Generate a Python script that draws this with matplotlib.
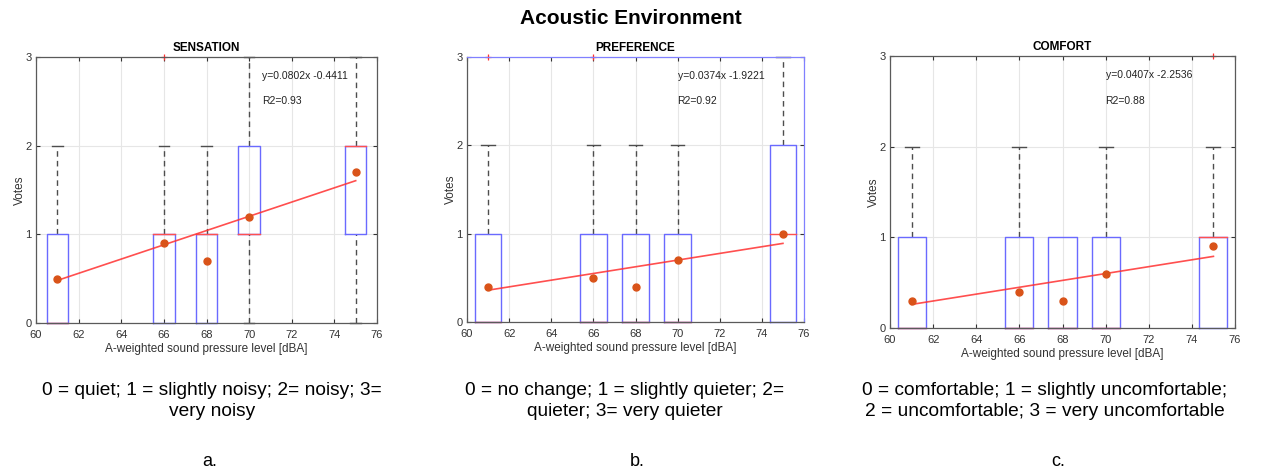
import matplotlib
matplotlib.use('Agg')
import matplotlib.pyplot as plt

plt.rcParams['font.family'] = ['Liberation Sans', 'DejaVu Sans']

spl = [61, 66, 68, 70, 75]

# box statistics per panel: q1, median, q3, lower whisker, upper whisker, outliers, mean
sens_q1 = [0, 0, 0, 1, 1]
sens_med = [0, 1, 1, 1, 2]
sens_q3 = [1, 1, 1, 2, 2]
sens_lo = [0, 0, 0, 0, 0]
sens_hi = [2, 2, 2, 3, 3]
sens_out = [[], [3], [], [], []]
sens_mean = [0.5, 0.9, 0.7, 1.2, 1.7]
sens_fit = [0.48, 1.605]

pref_q1 = [0, 0, 0, 0, 0]
pref_med = [0, 0, 0, 0, 1]
pref_q3 = [1, 1, 1, 1, 2]
pref_lo = [0, 0, 0, 0, 0]
pref_hi = [2, 2, 2, 2, 3]
pref_out = [[3], [3], [], [], []]
pref_mean = [0.4, 0.5, 0.4, 0.7, 1.0]
pref_fit = [0.36, 0.89]

comf_q1 = [0, 0, 0, 0, 0]
comf_med = [0, 0, 0, 0, 1]
comf_q3 = [1, 1, 1, 1, 1]
comf_lo = [0, 0, 0, 0, 0]
comf_hi = [2, 2, 1, 2, 2]
comf_out = [[], [], [], [], [3]]
comf_mean = [0.3, 0.4, 0.3, 0.6, 0.9]
comf_fit = [0.26, 0.79]

titles = ['SENSATION', 'PREFERENCE', 'COMFORT']
equations = ['y=0.0802x -0.4411', 'y=0.0374x -1.9221', 'y=0.0407x -2.2536']
r2_labels = ['R2=0.93', 'R2=0.92', 'R2=0.88']
captions = ['0 = quiet; 1 = slightly noisy; 2= noisy; 3=\nvery noisy',
            '0 = no change; 1 = slightly quieter; 2=\nquieter; 3= very quieter',
            '0 = comfortable; 1 = slightly uncomfortable;\n2 = uncomfortable; 3 = very uncomfortable']
letters = ['a.', 'b.', 'c.']

panels = [
    (sens_q1, sens_med, sens_q3, sens_lo, sens_hi, sens_out, sens_mean, sens_fit),
    (pref_q1, pref_med, pref_q3, pref_lo, pref_hi, pref_out, pref_mean, pref_fit),
    (comf_q1, comf_med, comf_q3, comf_lo, comf_hi, comf_out, comf_mean, comf_fit),
]

W, H = 1269, 474
# pixel boxes: left, right, top, bottom
boxes_px = [(36, 377, 57, 323), (467, 804, 57, 322), (890, 1235, 56, 328)]
box_widths = [1.0, 1.25, 1.3]
eq_x = [70.6, 70.0, 70.0]
caption_x = [212, 625, 1045]
letter_x = [210, 637, 1058]

grey = '#4d4d4d'
blue = '#6a6aff'
red = '#ff5050'

fig = plt.figure(figsize=(W / 100, H / 100), dpi=100)
fig.text(631 / W, 1 - 18 / H, 'Acoustic Environment', ha='center', va='center',
         fontsize=15, fontweight='bold')

for i, (q1, med, q3, lo, hi, out, mean, fit) in enumerate(panels):
    l, r, t, b = boxes_px[i]
    ax = fig.add_axes([l / W, 1 - b / H, (r - l) / W, (b - t) / H])
    wd = box_widths[i]
    for k, x in enumerate(spl):
        x0, x1 = x - wd / 2, x + wd / 2
        c0, c1 = x - wd / 4, x + wd / 4
        # whiskers and caps
        if hi[k] > q3[k]:
            ax.plot([x, x], [q3[k], hi[k]], color=grey, lw=1.0, ls=(0, (4, 3)), clip_on=False)
            ax.plot([c0, c1], [hi[k], hi[k]], color=grey, lw=1.0, clip_on=False)
        if lo[k] < q1[k]:
            ax.plot([x, x], [lo[k], q1[k]], color=grey, lw=1.0, ls=(0, (4, 3)), clip_on=False)
            ax.plot([c0, c1], [lo[k], lo[k]], color=grey, lw=1.0, clip_on=False)
        # box
        ax.plot([x0, x1, x1, x0, x0], [q1[k], q1[k], q3[k], q3[k], q1[k]],
                color=blue, lw=1.0, clip_on=False)
        # median
        ax.plot([x0, x1], [med[k], med[k]], color=red, lw=1.0, clip_on=False)
        # outliers
        if out[k]:
            ax.plot([x] * len(out[k]), out[k], '+', color='#ff3030', markersize=4.5,
                    mew=0.9, clip_on=False)
    ax.plot([spl[0], spl[-1]], fit, color='#ff3030', lw=1.2, alpha=0.85)
    ax.plot(spl, mean, 'o', color='#d95319', markersize=5)

    ax.set_xlim(60, 76)
    ax.set_ylim(0, 3)
    ax.set_xticks(range(60, 77, 2))
    ax.set_yticks([0, 1, 2, 3])
    ax.grid(True, color='#e6e6e6', lw=0.8)
    ax.set_axisbelow(True)
    ax.tick_params(direction='in', top=True, right=True, labelsize=8, colors='#333333',
                   length=3, width=0.8, pad=3)
    ax.tick_params(axis='x', pad=5)
    for s in ax.spines.values():
        s.set_color('#5a5a5a')
        s.set_linewidth(0.9)
    if i == 1:
        ax.spines['top'].set_color('#8080ff')
        ax.spines['right'].set_color('#8080ff')
    ax.set_title(titles[i], fontsize=8.5, fontweight='bold', pad=4)
    ax.set_xlabel('A-weighted sound pressure level [dBA]', fontsize=8.5, color='#333333', labelpad=2)
    ax.set_ylabel('Votes', fontsize=8.5, color='#333333', labelpad=0)
    ax.text(eq_x[i], 2.79, equations[i], fontsize=7.5, va='center', color='#222222')
    ax.text(eq_x[i], 2.5, r2_labels[i], fontsize=7.5, va='center', color='#222222')

    fig.text(caption_x[i] / W, 1 - 401 / H, captions[i], ha='center', va='center',
             fontsize=13.8, linespacing=1.38)
    fig.text(letter_x[i] / W, 1 - 462 / H, letters[i], ha='center', va='center', fontsize=13)

fig.savefig('out.png', dpi=100)
